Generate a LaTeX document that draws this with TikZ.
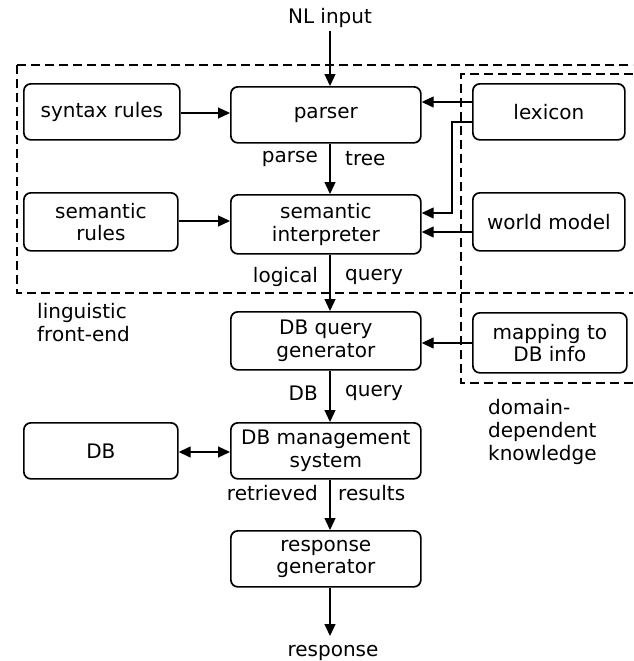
\documentclass[tikz,border=0pt]{standalone}
\usepackage{fontspec}
\setmainfont{DejaVu Sans}
\usetikzlibrary{arrows.meta}
\begin{document}
\begin{tikzpicture}[x=1pt,y=-1pt,
  font=\fontsize{20}{22.5}\selectfont,
  block/.style={draw, line width=1.7pt, rounded corners=7pt, align=center,
    inner sep=0pt, anchor=north west},
  flow/.style={line width=1.3pt, -{Triangle[length=12pt,width=11pt]}},
  region/.style={line width=1.3pt, dash pattern=on 9pt off 5pt},
  lbl/.style={inner sep=0pt}]
\useasboundingbox (0,0) rectangle (633,661);

% dashed regions: linguistic front-end and domain knowledge
\draw[region] (17,65) -- (633,65);
\draw[region] (17,65) -- (17,293) -- (633,293);
\draw[region] (633,74) -- (461,74) -- (461,383) -- (633,383);

% processing blocks
\node[block, minimum width=156pt, minimum height=56pt] (syn) at (23,83) {syntax rules};
\node[block, minimum width=190pt, minimum height=56pt] (par) at (230,86) {parser};
\node[block, minimum width=152pt, minimum height=56pt] (lex) at (472,83) {lexicon};
\node[block, minimum width=154pt, minimum height=58pt] (semr) at (23,192) {semantic\\rules};
\node[block, minimum width=190pt, minimum height=59pt] (semi) at (230,194) {semantic\\interpreter};
\node[block, minimum width=152pt, minimum height=58pt] (wm) at (472,192) {world model};
\node[block, minimum width=190pt, minimum height=58pt] (qg) at (230,311) {DB query\\generator};
\node[block, minimum width=154pt, minimum height=60pt] (map) at (472,312) {mapping to\\DB info};
\node[block, minimum width=154pt, minimum height=56pt] (db) at (23,422) {DB};
\node[block, minimum width=190pt, minimum height=56pt] (dbms) at (230,422) {DB management\\system};
\node[block, minimum width=190pt, minimum height=56pt] (rg) at (230,530) {response\\generator};

% input / output
\node[lbl] (in) at (330,18) {NL input};
\node[lbl] (out) at (333,653) {response};
\coordinate (inend) at (330,31);
\coordinate (outend) at (330,636);

% main flow
\draw[flow] (inend) -- (inend |- par.north);
\draw[flow] (par.south -| inend) -- (inend |- semi.north);
\draw[flow] (semi.south -| inend) -- (inend |- qg.north);
\draw[flow] (qg.south -| inend) -- (inend |- dbms.north);
\draw[flow] (dbms.south -| inend) -- (inend |- rg.north);
\draw[flow] (rg.south -| inend) -- (outend);

% labels on the main flow
\node[lbl, anchor=east] at (318,159) {parse};
\node[lbl, anchor=west] at (345,159) {tree};
\node[lbl, anchor=east] at (318,277) {logical};
\node[lbl, anchor=west] at (345,277) {query};
\node[lbl, anchor=east] at (318,393) {DB};
\node[lbl, anchor=west] at (345,393) {query};
\node[lbl, anchor=east] at (318,493) {retrieved};
\node[lbl, anchor=west] at (338,493) {results};

% knowledge sources
\draw[flow] (syn.east |- 0,113) -- (par.west |- 0,113);
\draw[flow] (semr.east |- 0,221) -- (semi.west |- 0,221);
\draw[flow] (lex.west |- 0,102) -- (par.east |- 0,102);
\coordinate (bend) at (452,122);
\draw[flow] (lex.west |- bend) -- (bend) -- (452,213) -- (semi.east |- 0,213);
\draw[flow] (wm.west |- 0,232) -- (semi.east |- 0,232);
\draw[flow] (map.west |- 0,343) -- (qg.east |- 0,343);
\draw[line width=1.3pt, {Triangle[length=12pt,width=11pt]}-{Triangle[length=12pt,width=11pt]}]
  (db.east |- 0,452) -- (dbms.west |- 0,452);

% region captions
\node[lbl, anchor=north west, align=left, font=\fontsize{20}{23}\selectfont] (ling) at (37,303) {linguistic\\front-end};
\node[lbl, anchor=north west, align=left, font=\fontsize{20}{23}\selectfont] (dom) at (488,399) {domain-\\dependent\\knowledge};
\end{tikzpicture}
\end{document}
